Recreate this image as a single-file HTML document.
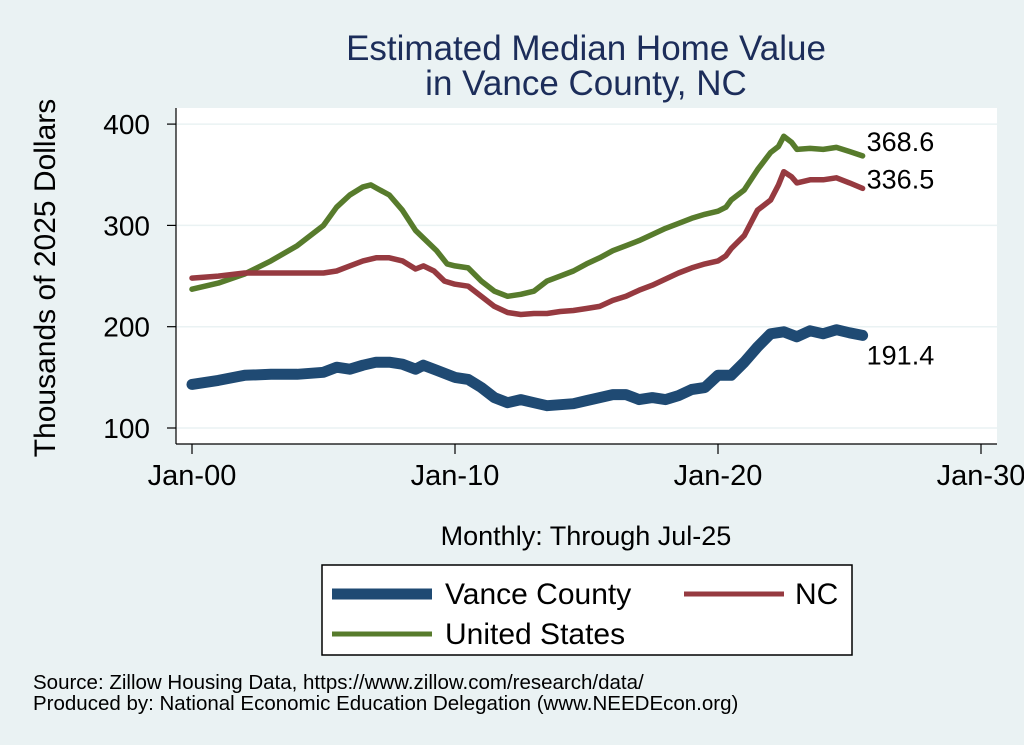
<!DOCTYPE html>
<html><head><meta charset="utf-8"><style>
body{margin:0;background:#eaf2f3;}
svg{display:block;font-family:"Liberation Sans",Arial,sans-serif;}
</style></head><body>
<svg id="chart" width="1024" height="745" viewBox="0 0 1024 745">
<rect x="0" y="0" width="1024" height="745" fill="#eaf2f3"/>
<text x="586" y="60" text-anchor="middle" font-size="35" fill="#1c2d5a">Estimated Median Home Value</text>
<text x="586" y="95" text-anchor="middle" font-size="35" fill="#1c2d5a">in Vance County, NC</text>
<rect x="176" y="108" width="821" height="336" fill="#ffffff"/>
<g id="grid"></g>
<g id="axes"></g>
<g id="series"></g>
<text transform="translate(55,278) rotate(-90)" text-anchor="middle" font-size="30" fill="#000">Thousands of 2025 Dollars</text>
<text x="586" y="545" text-anchor="middle" font-size="27" fill="#000">Monthly: Through Jul-25</text>
<g>
<rect x="322" y="565" width="530" height="90" fill="#fff" stroke="#000" stroke-width="1.5"/>
<line x1="332" y1="594" x2="432" y2="594" stroke="#1f4a73" stroke-width="11"/>
<text x="445" y="604" font-size="30">Vance County</text>
<line x1="684" y1="594" x2="784" y2="594" stroke="#963a40" stroke-width="5"/>
<text x="795" y="604" font-size="30">NC</text>
<line x1="332" y1="634" x2="432" y2="634" stroke="#577b2c" stroke-width="5"/>
<text x="445" y="644" font-size="30">United States</text>
</g>
<text x="33" y="689" font-size="20.5">Source: Zillow Housing Data, https://www.zillow.com/research/data/</text>
<text x="33" y="710" font-size="20.5">Produced by: National Economic Education Delegation (www.NEEDEcon.org)</text>
</svg>
<script>
const usYears=[2000,2001,2002,2003,2004,2005,2005.5,2006,2006.5,2006.8,2007,2007.5,2008,2008.5,2008.9,2009.3,2009.7,2010,2010.5,2011,2011.5,2012,2012.5,2013,2013.5,2014,2014.5,2015,2015.5,2016,2016.5,2017,2017.5,2018,2018.5,2019,2019.5,2020,2020.3,2020.5,2021,2021.5,2022,2022.3,2022.5,2022.8,2023,2023.5,2024,2024.5,2025,2025.5];
const usValues=[237,243,252,265,280,300,318,330,338,340,337,330,315,295,285,275,262,260,258,245,235,230,232,235,245,250,255,262,268,275,280,285,291,297,302,307,311,314,318,325,335,355,372,378,388,382,375,376,375,377,373,368.6];
const ncYears=[2000,2001,2002,2003,2004,2005,2005.5,2006,2006.5,2007,2007.5,2008,2008.5,2008.8,2009.2,2009.6,2010,2010.5,2011,2011.5,2012,2012.5,2013,2013.5,2014,2014.5,2015,2015.5,2016,2016.5,2017,2017.5,2018,2018.5,2019,2019.5,2020,2020.3,2020.5,2021,2021.5,2022,2022.3,2022.5,2022.8,2023,2023.5,2024,2024.5,2025,2025.5];
const ncValues=[248,250,253,253,253,253,255,260,265,268,268,265,257,260,255,245,242,240,230,220,214,212,213,213,215,216,218,220,226,230,236,241,247,253,258,262,265,270,277,290,315,325,340,353,348,342,345,345,347,342,336.5];
const vanceYears=[2000,2001,2002,2003,2004,2005,2005.5,2006,2006.5,2007,2007.5,2008,2008.5,2008.8,2009.3,2010,2010.5,2011,2011.5,2012,2012.5,2013,2013.5,2014,2014.5,2015,2015.5,2016,2016.5,2017,2017.5,2018,2018.5,2019,2019.5,2020,2020.5,2021,2021.5,2022,2022.5,2023,2023.5,2024,2024.5,2025,2025.5];
const vanceValues=[143,147,152,153,153,155,160,158,162,165,165,163,158,162,157,150,148,140,130,125,128,125,122,123,124,127,130,133,133,128,130,128,132,138,140,152,152,165,180,193,195,190,196,193,197,194,191.4];
const yTicks=[100,200,300,400];
const xTicks=[2000,2010,2020,2030];
const xTickLabels=["Jan-00","Jan-10","Jan-20","Jan-30"];
const endLabels=["368.6","336.5","191.4"];

const NS="http://www.w3.org/2000/svg";
function xs(y){return 192+(y-2000)*26.3;}
function ys(v){return 428-(v-100)*1.013;}
function mk(tag,attrs,parent){const e=document.createElementNS(NS,tag);for(const k in attrs)e.setAttribute(k,attrs[k]);parent.appendChild(e);return e;}
const grid=document.getElementById('grid'),axes=document.getElementById('axes'),series=document.getElementById('series');
yTicks.forEach(t=>{
  const g=mk('line',{x1:176,x2:997,y1:ys(t),y2:ys(t),stroke:'#eaf2f3','stroke-width':1.5},grid);
  
  
  mk('line',{x1:167,x2:176,y1:ys(t),y2:ys(t),stroke:'#000','stroke-width':1.2},axes);
  const tx=mk('text',{x:150,y:ys(t)+10,'text-anchor':'end','font-size':28},axes);
  tx.textContent=t;
  
  
});
mk('line',{x1:176,x2:176,y1:108,y2:444,stroke:'#000','stroke-width':1.2},axes);
mk('line',{x1:176,x2:997,y1:444,y2:444,stroke:'#000','stroke-width':1.2},axes);
xTicks.forEach((t,i)=>{
  mk('line',{x1:xs(t),x2:xs(t),y1:444,y2:454,stroke:'#000','stroke-width':1.2},axes);
  const tx=mk('text',{x:xs(t),y:485,'text-anchor':'middle','font-size':29},axes);
  tx.textContent=xTickLabels[i];
  
  
});
function line(yrs,vals,color,w,name){
  const d=yrs.map((y,i)=>(i?'L':'M')+xs(y).toFixed(1)+','+ys(vals[i]).toFixed(1)).join(' ');
  const p=mk('path',{d:d,fill:'none',stroke:color,'stroke-width':w,'stroke-linejoin':'round','stroke-linecap':'round'},series);
  
  
}
line(usYears,usValues,'#577b2c',5.5,'us-line');
line(ncYears,ncValues,'#963a40',5.5,'nc-line');
line(vanceYears,vanceValues,'#1f4a73',11,'vance-line');
const ends=[[usYears,usValues,-1],[ncYears,ncValues,4],[vanceYears,vanceValues,33]];
ends.forEach((e,i)=>{
  const yr=e[0][e[0].length-1],v=e[1][e[1].length-1];
  const tx=mk('text',{x:xs(yr)+4,y:ys(v)+e[2]-4,'font-size':27},series);
  tx.textContent=endLabels[i];
  
  
});
</script>
</body></html>
